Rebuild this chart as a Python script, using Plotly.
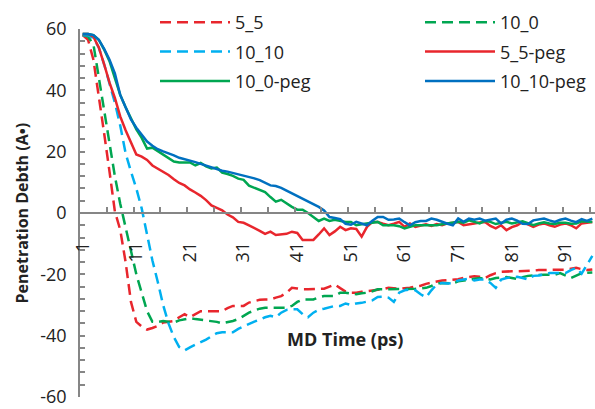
import plotly.graph_objects as go

categories = list(range(1, 97))

s5_5 = [58, 56.5, 50, 38.5, 26, 13.5, 0.5, -5.5, -16, -29, -35.5, -37, -38, -37.5, -36.8, -35.7, -35.4, -35.2, -34, -33,
        -34, -33, -32, -32, -32, -32, -32, -31, -30.3, -30.3, -30.3, -29.2, -28.7, -28.3, -28.2, -28.2, -27.6, -27.1, -26, -24.4,
        -24.6, -24.9, -24.9, -24.9, -24.8, -24.7, -24, -23.3, -24.5, -25.6, -26, -26, -25.7, -25.5, -25.3, -25.2, -24.8, -24.4, -24.6, -24.7,
        -24.5, -24.4, -24, -23.7, -23.1, -22.7, -22.3, -22, -21.9, -21.8, -21.6, -21.2, -20.8, -20.6, -20.8, -21.2, -20.3, -19.6, -19.2, -19,
        -19, -19, -19, -19, -18.8, -18.6, -18.5, -18.5, -18.5, -18.5, -18.5, -18.2, -17.9, -18.3, -18.6, -18.4]

s10_0 = [58, 57.5, 55, 44, 33, 22, 12, 3, -5, -13, -20, -26, -32, -35.5, -35.5, -35.2, -35.5, -35.7, -35, -34.6,
         -34.3, -34.6, -34.8, -35, -35.2, -35.5, -36, -35.7, -35.2, -34.6, -33.5, -32.5, -31.8, -31.2, -30.9, -30.9, -30.9, -30.9, -30.9, -30.3,
         -29, -28.2, -28.2, -28.2, -27.5, -27.1, -27.1, -27.1, -26, -26, -26.3, -26.5, -26.2, -26, -25.5, -24.9, -24.9, -24.9, -24.9, -24.9,
         -24.9, -24.9, -24.7, -24.6, -24.4, -23.8, -23, -22.8, -22.9, -23, -22.3, -22, -21.7, -21.6, -21.2, -21.5, -21.7, -21.2, -21, -20.9,
         -21.2, -21.5, -20.9, -20.5, -20.4, -20.2, -20.1, -20.1, -20.1, -19.6, -20.5, -21.2, -20.4, -19.6, -19.5, -19.4]

s10_10 = [58, 58, 57, 54, 48.5, 42.5, 36, 28.5, 19.5, 13.5, 8, 1.5, -7, -15.5, -22.5, -30, -36, -40.5, -43.7, -44.8,
          -43.8, -43, -42.3, -41.3, -40.2, -39.2, -38.9, -38.9, -38.9, -37.8, -37, -36, -35.4, -34.8, -34, -33.5, -34, -32.5, -31.6, -31.4,
          -31.4, -33, -34, -32.5, -31.6, -31.2, -30.7, -30.3, -30.3, -29.5, -30, -29.5, -29.3, -29, -28.5, -27.4, -27.3, -27.6, -29, -26,
          -25.2, -24.9, -25.2, -26.5, -27.5, -25.2, -23.3, -22.8, -23, -22.9, -22, -21.7, -21.4, -22, -21.7, -21.7, -22.8, -24.4, -21.7, -21.2,
          -21, -20.8, -21.2, -21.7, -20.5, -20.4, -20, -19.6, -19.6, -19.6, -19.6, -18.6, -17.9, -19.8, -16.9, -14]

s5_5_peg = [58.4, 58.4, 57.5, 54, 48.5, 42.5, 37.5, 31.5, 27, 23.2, 19.1, 18.4, 17.3, 15.5, 14.4, 13.5, 12.4, 11, 9.8, 9,
            7.7, 6.7, 5.6, 4.2, 2.5, 1.7, 0.9, -0.5, -1.4, -2.9, -3.2, -4, -4.8, -5.8, -6.8, -6.1, -7.2, -6.9, -6.8, -6.1,
            -6.5, -8.8, -8.8, -8.8, -7, -5, -7.2, -6, -4.5, -5.6, -5, -5.2, -7.7, -4.5, -2.9, -2.9, -3.5, -4, -3.5, -2.9,
            -4.5, -3.4, -4.5, -4, -3.7, -4.2, -3.6, -4, -3.4, -3.2, -2.9, -4, -3.8, -3.4, -3.1, -2.9, -4.2, -5, -4, -5.6,
            -4.6, -4, -2.9, -3.8, -4.5, -3.8, -3.4, -4, -4.5, -3.8, -3.4, -4, -5, -3.4, -3.2, -2.9]

s10_0_peg = [58.4, 58.4, 58, 56.5, 53.3, 49.5, 44, 38.5, 34.5, 30.8, 27.3, 24.5, 21, 21.3, 20.2, 19, 17.8, 16.8, 16.5, 16.5,
             16.5, 15.5, 16.3, 15.2, 14.5, 14.8, 13.2, 12.7, 12.1, 11.2, 10.8, 8.9, 8.2, 7.6, 6.8, 5.2, 3.7, 4.3, 3, 2,
             1.1, 1.1, 0, -1.2, -2.6, -1.8, -2.6, -2.2, -2.5, -2.9, -2.9, -4, -3.7, -3.4, -3, -2.9, -4, -4, -4, -4.3,
             -5, -4.5, -4, -4, -4, -4, -4, -3.7, -3.4, -3, -2.9, -3.2, -2.4, -2.9, -3.4, -2.6, -2.9, -3.6, -3.2, -2.9,
             -3.4, -3, -2.7, -3.3, -4, -3.4, -3, -3.4, -3.6, -3.2, -3.2, -3.5, -3.4, -2.7, -2.9, -2.9]

s10_10_peg = [58.4, 58.4, 58, 56.5, 53.5, 50, 45.5, 38.5, 34.5, 30.5, 27.8, 25.4, 23.3, 21.9, 20.8, 20.1, 19.5, 18.8, 18, 17.6,
              17.1, 16.6, 16, 15.4, 14.8, 14.3, 13.8, 13.5, 13.1, 12.5, 12.1, 11.8, 11.3, 10.7, 9.8, 9, 8.8, 8.2, 7.3, 6.4,
              5.5, 4.7, 3.8, 2.9, 2, 0.8, -1.3, -1.6, -2, -3.5, -3.8, -2.9, -3.4, -4, -2.5, -1.3, -1.3, -2.2, -2.1, -1.8,
              -3, -4, -3, -2.6, -2.6, -1.8, -2.2, -2.9, -3.5, -4, -1.8, -2.9, -1.8, -2.2, -1.8, -2.5, -2.2, -1.8, -3.4, -2.2,
              -1.8, -2.5, -3.5, -3.6, -2.4, -2, -1.8, -2.4, -2.9, -2.2, -1.8, -2.5, -3, -2, -2.6, -1.8]

x_tick_vals = [1, 11, 21, 31, 41, 51, 61, 71, 81, 91]
x_minor_vals = [5.5 + 5 * k for k in range(19)]
y_tick_vals = [-60, -40, -20, 0, 20, 40, 60]
y_tick_text = ["-60", "-40", "-20", "0", "20", "40", "60"]

RED = "#E8262D"
GREEN = "#00A651"
LBLUE = "#00B0F0"
BLUE = "#0070C0"
AXIS = "#868686"
FONT = "Open Sans"
TXT = "#222222"

series = [
    ("5_5", s5_5, RED, "11px,6px", "legend"),
    ("10_0", s10_0, GREEN, "11px,6px", "legend2"),
    ("10_10", s10_10, LBLUE, "11px,6px", "legend"),
    ("5_5-peg", s5_5_peg, RED, "solid", "legend2"),
    ("10_0-peg", s10_0_peg, GREEN, "solid", "legend"),
    ("10_10-peg", s10_10_peg, BLUE, "solid", "legend2"),
]

fig = go.Figure()
for name, vals, color, dash, leg in series:
    fig.add_trace(go.Scatter(
        x=categories, y=vals, mode="lines", name=name,
        line=dict(color=color, width=2.5, dash=dash),
        legend=leg, legendgroup=name,
    ))

TOP, BOT = 29, 12
PH = 409 - TOP - BOT


def py(pix):
    return (409 - BOT - pix) / PH


legend_common = dict(
    orientation="v", xanchor="left", yanchor="top",
    font=dict(family=FONT, size=18, color=TXT),
    bgcolor="rgba(0,0,0,0)", tracegroupgap=3, itemwidth=70,
)

fig.update_layout(
    width=595, height=409,
    margin=dict(l=80, r=0, t=TOP, b=BOT, autoexpand=False),
    paper_bgcolor="white", plot_bgcolor="white",
    font=dict(family=FONT, size=18, color=TXT),
    showlegend=True,
    legend=dict(x=(155 - 80) / 515, y=py(4), **legend_common),
    legend2=dict(x=(420 - 80) / 515, y=py(4), **legend_common),
    xaxis=dict(
        range=[0.5, 96.5], anchor="free", position=0.5, side="bottom",
        showline=True, linecolor=AXIS, linewidth=1.5,
        showgrid=False, zeroline=False,
        tickmode="array", tickvals=x_tick_vals, ticktext=[str(v) for v in x_tick_vals],
        tickangle=-90, ticks="", ticklabelstandoff=21,
        tickfont=dict(family=FONT, size=18, color=TXT),
        minor=dict(tickmode="array", tickvals=x_minor_vals, ticks="inside", ticklen=5,
                   tickwidth=1.5, tickcolor=AXIS, showgrid=False),
    ),
    yaxis=dict(
        range=[-60, 60], showline=True, linecolor=AXIS, linewidth=1.5,
        showgrid=False, zeroline=False,
        tickmode="array", tickvals=y_tick_vals, ticktext=y_tick_text,
        ticks="inside", ticklen=5, tickwidth=1.5, tickcolor=AXIS, ticklabelstandoff=8,
        ticklabeloverflow="allow",
        tickfont=dict(family=FONT, size=18, color=TXT),
        minor=dict(dtick=4, tick0=0, ticks="inside", ticklen=5, tickwidth=1.5, tickcolor=AXIS, showgrid=False),
    ),
    annotations=[
        dict(text="<b>Penetration Debth (A•)</b>", xref="paper", yref="paper",
             x=(21.5 - 80) / 515, y=0.5, xanchor="center", yanchor="middle",
             textangle=-90, showarrow=False, font=dict(family=FONT, size=16, color=TXT)),
        dict(text="<b>MD Time (ps)</b>", xref="paper", yref="paper",
             x=(345 - 80) / 515, y=py(339), xanchor="center", yanchor="middle",
             showarrow=False, font=dict(family=FONT, size=18, color=TXT)),
    ],
)

fig.write_html("out.html")
